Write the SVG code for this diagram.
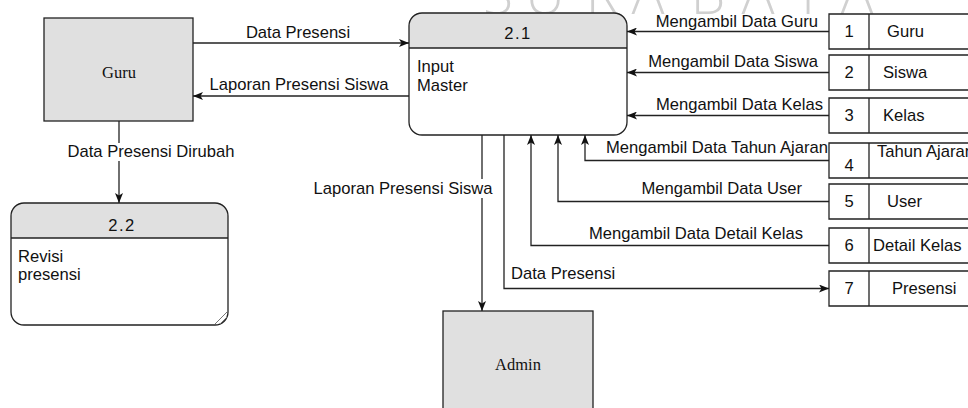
<svg xmlns="http://www.w3.org/2000/svg" width="968" height="408" viewBox="0 0 968 408">
  <style>
    .lbl { font-family: "Liberation Sans", Arial, sans-serif; font-size: 16.6px; fill: #111; }
    .ent { font-family: "Liberation Serif", "Times New Roman", serif; font-size: 16.5px; fill: #111; }
    .box { fill: #e0e0e0; stroke: #222; stroke-width: 1.3; }
    .proc { fill: none; stroke: #222; stroke-width: 1.3; }
    .hdr { fill: #e0e0e0; }
    .line { fill: none; stroke: #222; stroke-width: 1.3; }
    .store { fill: #ffffff; stroke: #222; stroke-width: 1.3; }
    .mid { text-anchor: middle; }
    .end { text-anchor: end; }
    .wm { font-family: "Open Sans", "Liberation Sans", sans-serif; font-weight: 300; font-size: 55px; fill: #d0d0d0; }
  </style>
  <defs>
    <marker id="arr" viewBox="0 0 10 8" refX="10" refY="4" markerWidth="10" markerHeight="8" orient="auto" markerUnits="userSpaceOnUse">
      <path d="M0,0 L10,4 L0,8 L2.5,4 Z" fill="#111"/>
    </marker>
  </defs>

  <rect width="968" height="408" fill="#ffffff"/>

  <!-- background lettering along the top edge -->
  <text class="wm" x="498 545 602 648 708 758 808 857" y="14" text-anchor="middle">SURABAYA</text>

  <!-- external entity: Guru -->
  <g id="guru">
    <rect class="box" x="44" y="18" width="149" height="103"/>
    <text class="ent mid" x="119" y="78">Guru</text>
  </g>

  <!-- external entity: Admin -->
  <g id="admin">
    <rect class="box" x="443" y="311" width="150" height="103"/>
    <text class="ent mid" x="518" y="370">Admin</text>
  </g>

  <!-- process 2.1 -->
  <g id="p21">
    <rect x="409" y="13" width="218" height="122" rx="13" ry="13" fill="#ffffff"/>
    <path class="hdr" d="M409,48 V26 Q409,13 422,13 H614 Q627,13 627,26 V48 Z"/>
    <rect class="proc" x="409" y="13" width="218" height="122" rx="13" ry="13"/>
    <line class="line" x1="409" y1="48" x2="627" y2="48"/>
    <text class="lbl mid" x="518" y="39" letter-spacing="1.5">2.1</text>
    <text class="lbl" x="417" y="72">Input</text>
    <text class="lbl" x="417" y="91">Master</text>
  </g>

  <!-- process 2.2 -->
  <g id="p22">
    <rect x="11" y="203" width="217" height="122" rx="13" ry="13" fill="#ffffff"/>
    <path class="hdr" d="M11,238 V216 Q11,203 24,203 H215 Q228,203 228,216 V238 Z"/>
    <rect class="proc" x="11" y="203" width="217" height="122" rx="13" ry="13"/>
    <line class="line" x1="11" y1="238" x2="228" y2="238"/>
    <line x1="215" y1="324" x2="227" y2="312" stroke="#777" stroke-width="1"/>
    <line x1="220" y1="324" x2="227" y2="317" stroke="#777" stroke-width="1"/>
    <text class="lbl mid" x="122" y="231" letter-spacing="1.5">2.2</text>
    <text class="lbl" x="18" y="262">Revisi</text>
    <text class="lbl" x="18" y="280">presensi</text>
  </g>

  <!-- data stores -->
  <g id="ds1">
    <path class="store" d="M1000,14 H829 V49 H1000 M869,14 V49"/>
    <text class="lbl mid" x="849" y="37">1</text>
    <text class="lbl" x="887" y="37">Guru</text>
  </g>
  <g id="ds2">
    <path class="store" d="M1000,55 H829 V90 H1000 M869,55 V90"/>
    <text class="lbl mid" x="849" y="78">2</text>
    <text class="lbl" x="883" y="78">Siswa</text>
  </g>
  <g id="ds3">
    <path class="store" d="M1000,98 H829 V133 H1000 M869,98 V133"/>
    <text class="lbl mid" x="849" y="121">3</text>
    <text class="lbl" x="883" y="121">Kelas</text>
  </g>
  <g id="ds4">
    <path class="store" d="M1000,143 H829 V178 H1000 M869,143 V178"/>
    <text class="lbl mid" x="849" y="171">4</text>
    <text class="lbl" x="877" y="157">Tahun Ajaran</text>
  </g>
  <g id="ds5">
    <path class="store" d="M1000,184 H829 V219 H1000 M869,184 V219"/>
    <text class="lbl mid" x="849" y="207">5</text>
    <text class="lbl" x="887" y="207">User</text>
  </g>
  <g id="ds6">
    <path class="store" d="M1000,228 H829 V263 H1000 M869,228 V263"/>
    <text class="lbl mid" x="849" y="251">6</text>
    <text class="lbl" x="873" y="251">Detail Kelas</text>
  </g>
  <g id="ds7">
    <path class="store" d="M1000,271 H829 V306 H1000 M869,271 V306"/>
    <text class="lbl mid" x="849" y="294">7</text>
    <text class="lbl" x="892" y="294">Presensi</text>
  </g>

  <!-- data flows -->
  <g id="flows">
    <path class="line" d="M193,43 H409" marker-end="url(#arr)"/>
    <path class="line" d="M409,96 H193" marker-end="url(#arr)"/>
    <path class="line" d="M119,121 V203" marker-end="url(#arr)"/>
    <path class="line" d="M829,31.5 H627" marker-end="url(#arr)"/>
    <path class="line" d="M829,72.5 H627" marker-end="url(#arr)"/>
    <path class="line" d="M829,115.5 H627" marker-end="url(#arr)"/>
    <path class="line" d="M829,160.5 H585 V135" marker-end="url(#arr)"/>
    <path class="line" d="M829,201.5 H558 V135" marker-end="url(#arr)"/>
    <path class="line" d="M829,245.5 H531 V135" marker-end="url(#arr)"/>
    <path class="line" d="M504,135 V288.5 H829" marker-end="url(#arr)"/>
    <path class="line" d="M482,135 V311" marker-end="url(#arr)"/>

    <text class="lbl mid" x="298" y="38">Data Presensi</text>
    <text class="lbl mid" x="299" y="90">Laporan Presensi Siswa</text>
    <rect x="66" y="143" width="170" height="18" fill="#ffffff"/>
    <text class="lbl mid" x="151" y="157">Data Presensi Dirubah</text>
    <text class="lbl end" x="818" y="27">Mengambil Data Guru</text>
    <text class="lbl end" x="818" y="67">Mengambil Data Siswa</text>
    <text class="lbl end" x="823" y="110">Mengambil Data Kelas</text>
    <text class="lbl end" x="828" y="153">Mengambil Data Tahun Ajaran</text>
    <text class="lbl end" x="802" y="194">Mengambil Data User</text>
    <text class="lbl end" x="803" y="239">Mengambil Data Detail Kelas</text>
    <text class="lbl" x="511" y="279">Data Presensi</text>
    <rect x="312" y="179" width="184" height="19" fill="#ffffff"/>
    <text class="lbl mid" x="403" y="194">Laporan Presensi Siswa</text>
  </g>
</svg>
